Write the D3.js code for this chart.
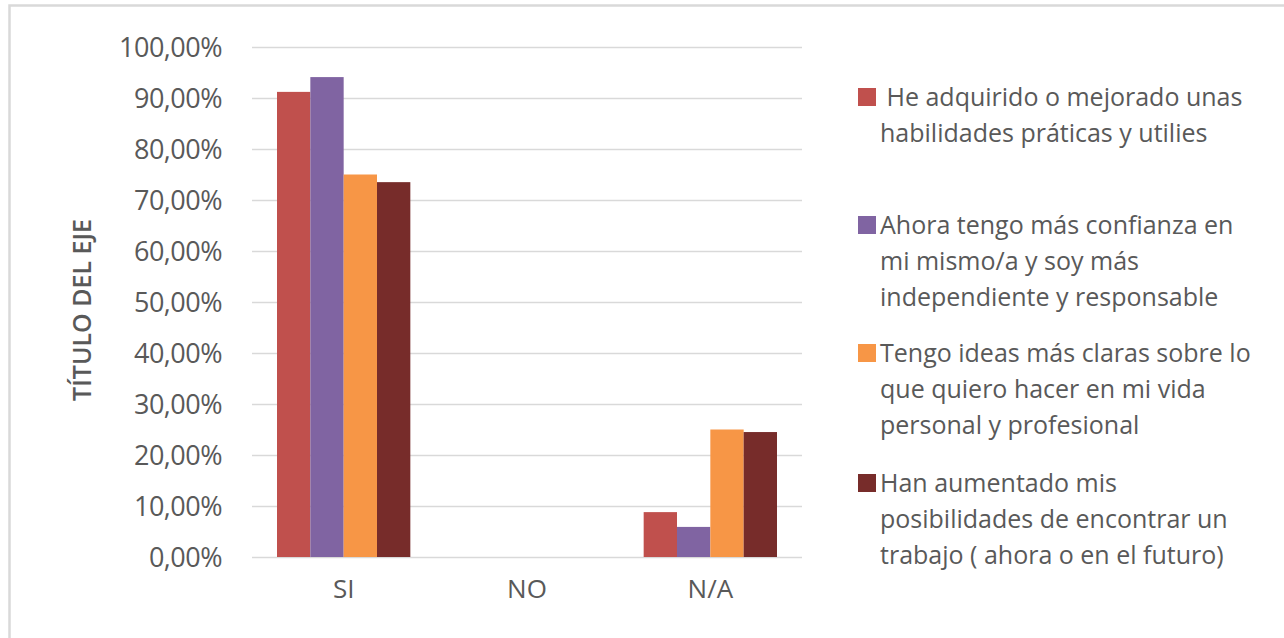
<!DOCTYPE html>
<html>
<head>
<meta charset="utf-8">
<script src="https://cdn.jsdelivr.net/npm/d3@7"></script>
<style>
  body { margin: 0; background: #fff; }
  text { font-family: "Open Sans", Lato, sans-serif; fill: #595959; }
</style>
</head>
<body>
<div id="viz"></div>
<script>
//==============================================================================
// Data
var categories = ["SI", "NO", "N/A"];
var series = [
  "He adquirido o mejorado unas habilidades práticas y utilies",
  "Ahora tengo más confianza en mi mismo/a y soy más independiente y responsable",
  "Tengo ideas más claras sobre lo que quiero hacer en mi vida personal y profesional",
  "Han aumentado mis posibilidades de encontrar un trabajo ( ahora o en el futuro)"
];
var legend_lines = [
  [" He adquirido o mejorado unas", "habilidades práticas y utilies"],
  ["Ahora tengo más confianza en", "mi mismo/a y soy más", "independiente y responsable"],
  ["Tengo ideas más claras sobre lo", "que quiero hacer en mi vida", "personal y profesional"],
  ["Han aumentado mis", "posibilidades de encontrar un", "trabajo ( ahora o en el futuro)"]
];
var si_values = [0.912, 0.941, 0.750, 0.735];
var no_values = [0, 0, 0, 0];
var na_values = [0.088, 0.059, 0.250, 0.245];
var y_ticks = [0, 0.1, 0.2, 0.3, 0.4, 0.5, 0.6, 0.7, 0.8, 0.9, 1.0];
var colors = ["#C0504D", "#8064A2", "#F79646", "#772C2A"];
var axis_title = "TÍTULO DEL EJE";

var values = [si_values, no_values, na_values];

//==============================================================================
// Layout
var width = 1284, height = 638;
var plot_left = 252, plot_right = 802, plot_top = 47, plot_bottom = 557;
var font = '"Open Sans", Lato, sans-serif';

var svg = d3.select("#viz").append("svg")
  .attr("width", width)
  .attr("height", height);

// outer frame
svg.append("rect")
  .attr("x", 9.5).attr("y", 5.5)
  .attr("width", 1290).attr("height", 650)
  .attr("fill", "none")
  .attr("stroke", "#d9d9d9")
  .attr("stroke-width", 2.5);

var y = d3.scaleLinear().domain([0, 1]).range([plot_bottom, plot_top]);
var x0 = d3.scaleBand().domain(categories).range([plot_left, plot_right]).padding(0);
var x1 = d3.scaleBand().domain(d3.range(series.length))
  .range([25, x0.bandwidth() - 25]).padding(0);

// gridlines
svg.append("g")
  .selectAll("line")
  .data(y_ticks)
  .enter().append("line")
  .attr("x1", plot_left).attr("x2", plot_right)
  .attr("y1", function(d) { return Math.round(y(d)) + 0.5; })
  .attr("y2", function(d) { return Math.round(y(d)) + 0.5; })
  .attr("stroke", "#d9d9d9")
  .attr("stroke-width", 1.5);

// y axis labels
var fmt = function(d) { return (d * 100).toFixed(2).replace(".", ",") + "%"; };
var yAxis = d3.axisLeft(y).tickValues(y_ticks).tickFormat(fmt).tickSize(0).tickPadding(0);
var yg = svg.append("g")
  .attr("transform", "translate(222,0)")
  .call(yAxis);
yg.select(".domain").remove();
yg.selectAll("text")
  .style("font-family", font)
  .style("font-size", "27px")
  .style("letter-spacing", "-0.5px")
  .attr("fill", "#595959")
  .attr("dy", "0.36em");

// x axis labels
var xAxis = d3.axisBottom(x0).tickSize(0).tickPadding(0);
var xg = svg.append("g")
  .attr("transform", "translate(0,585)")
  .call(xAxis);
xg.select(".domain").remove();
xg.selectAll("text")
  .style("font-family", font)
  .style("font-size", "26px")
  .attr("fill", "#595959")
  .attr("dy", "0.5em");

// bars
var groups = svg.append("g")
  .selectAll("g")
  .data(categories)
  .enter().append("g")
  .attr("transform", function(d) { return "translate(" + x0(d) + ",0)"; });

groups.selectAll("rect")
  .data(function(d, i) { return values[i].map(function(v, j) { return {v: v, s: j}; }); })
  .enter().append("rect")
  .attr("x", function(d) { return x1(d.s); })
  .attr("width", x1.bandwidth())
  .attr("y", function(d) { return y(d.v); })
  .attr("height", function(d) { return y(0) - y(d.v); })
  .attr("fill", function(d) { return colors[d.s]; });

// axis title
svg.append("text")
  .attr("transform", "translate(82,310) rotate(-90)")
  .attr("text-anchor", "middle")
  .attr("dy", "0.36em")
  .style("font-size", "25px")
  .style("font-weight", "600")
  .text(axis_title);

// legend
var legend_y = [97, 225, 353, 483];
var line_h = 36;
var legend = svg.append("g")
  .selectAll("g")
  .data(series)
  .enter().append("g")
  .attr("transform", function(d, i) { return "translate(858," + legend_y[i] + ")"; });

legend.append("rect")
  .attr("x", 0).attr("y", -9)
  .attr("width", 18).attr("height", 18)
  .attr("fill", function(d, i) { return colors[i]; });

legend.append("text")
  .attr("x", 22)
  .style("font-size", "25px")
  .attr("xml:space", "preserve")
  .selectAll("tspan")
  .data(function(d, i) { return legend_lines[i]; })
  .enter().append("tspan")
  .attr("x", 22)
  .attr("y", function(d, k) { return k * line_h; })
  .attr("dy", "0.36em")
  .text(function(d) { return d; });
</script>
</body>
</html>
